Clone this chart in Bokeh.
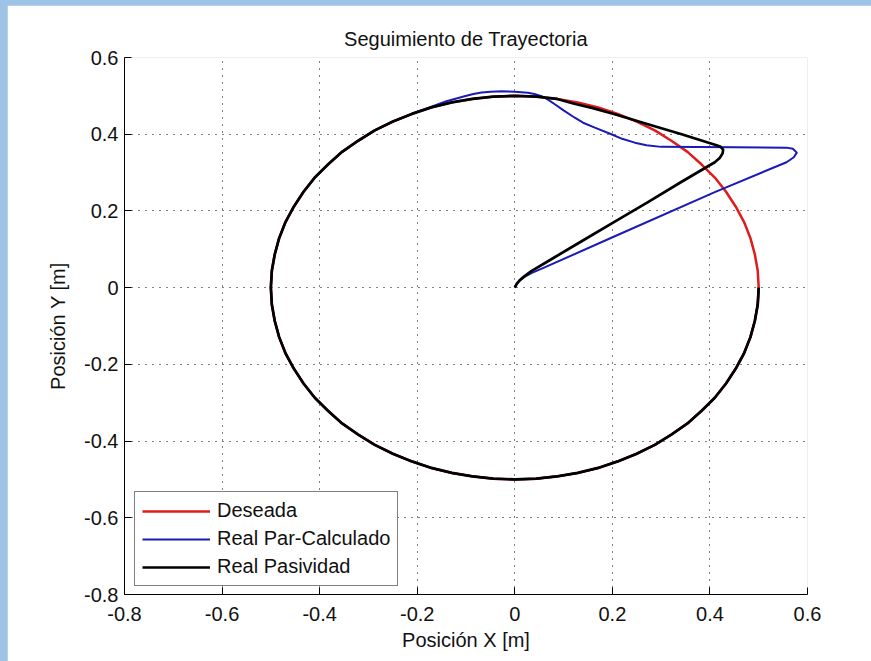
from bokeh.plotting import figure
from bokeh.models import Range1d, FixedTicker
from bokeh.embed import file_html
from bokeh.resources import INLINE

# Desired trajectory: circle of radius 0.5 (points read every 5 degrees, counter-clockwise from (0.5, 0))
circle_x = [0.500, 0.498, 0.492, 0.483, 0.470, 0.453, 0.433, 0.410, 0.383, 0.354,
            0.321, 0.287, 0.250, 0.211, 0.171, 0.129, 0.087, 0.044, 0.000,
            -0.044, -0.087, -0.129, -0.171, -0.211, -0.250, -0.287, -0.321, -0.354,
            -0.383, -0.410, -0.433, -0.453, -0.470, -0.483, -0.492, -0.498, -0.500,
            -0.498, -0.492, -0.483, -0.470, -0.453, -0.433, -0.410, -0.383, -0.354,
            -0.321, -0.287, -0.250, -0.211, -0.171, -0.129, -0.087, -0.044, 0.000,
            0.044, 0.087, 0.129, 0.171, 0.211, 0.250, 0.287, 0.321, 0.354,
            0.383, 0.410, 0.433, 0.453, 0.470, 0.483, 0.492, 0.498, 0.500]
circle_y = [0.000, 0.044, 0.087, 0.129, 0.171, 0.211, 0.250, 0.287, 0.321, 0.354,
            0.383, 0.410, 0.433, 0.453, 0.470, 0.483, 0.492, 0.498, 0.500,
            0.498, 0.492, 0.483, 0.470, 0.453, 0.433, 0.410, 0.383, 0.354,
            0.321, 0.287, 0.250, 0.211, 0.171, 0.129, 0.087, 0.044, 0.000,
            -0.044, -0.087, -0.129, -0.171, -0.211, -0.250, -0.287, -0.321, -0.354,
            -0.383, -0.410, -0.433, -0.453, -0.470, -0.483, -0.492, -0.498, -0.500,
            -0.498, -0.492, -0.483, -0.470, -0.453, -0.433, -0.410, -0.383, -0.354,
            -0.321, -0.287, -0.250, -0.211, -0.171, -0.129, -0.087, -0.044, 0.000]

# Real Par-Calculado: approach segment, then rejoins the circle at 115 deg
par_x = [0.000, 0.004, 0.010, 0.020, 0.034, 0.060, 0.205, 0.410, 0.557, 0.572,
         0.578, 0.570, 0.557, 0.450, 0.300, 0.270, 0.246, 0.220, 0.198, 0.164,
         0.140, 0.123, 0.100, 0.082, 0.068, 0.055, 0.040, 0.027, 0.000, -0.027,
         -0.050, -0.068, -0.085, -0.103, -0.140, -0.171]
par_y = [0.000, 0.010, 0.019, 0.028, 0.038, 0.052, 0.134, 0.249, 0.327, 0.340,
         0.352, 0.362, 0.365, 0.366, 0.367, 0.371, 0.378, 0.388, 0.400, 0.417,
         0.430, 0.443, 0.462, 0.478, 0.490, 0.499, 0.505, 0.508, 0.511, 0.512,
         0.511, 0.509, 0.505, 0.499, 0.486, 0.472]
par_join = 23

# Real Pasividad: approach segment, then rejoins the circle at 80 deg
pas_x = [0.000, 0.004, 0.010, 0.020, 0.034, 0.080, 0.137, 0.205, 0.273, 0.342,
         0.410, 0.420, 0.426, 0.427, 0.422, 0.412, 0.342, 0.273, 0.205, 0.160,
         0.120]
pas_y = [0.000, 0.010, 0.019, 0.030, 0.043, 0.078, 0.121, 0.172, 0.223, 0.276,
         0.327, 0.338, 0.350, 0.360, 0.367, 0.372, 0.400, 0.426, 0.452, 0.468,
         0.480]
pas_join = 16

ticks = [-0.8, -0.6, -0.4, -0.2, 0.0, 0.2, 0.4, 0.6]
tick_labels = ["-0.8", "-0.6", "-0.4", "-0.2", "0", "0.2", "0.4", "0.6"]

FONT = "Liberation Sans"

p = figure(width=864, height=656, output_backend="svg", toolbar_location=None,
           x_range=Range1d(-0.8, 0.6), y_range=Range1d(-0.8, 0.6),
           min_border_left=117, min_border_right=64, min_border_top=52,
           min_border_bottom=67, title="Seguimiento de Trayectoria")
p.background_fill_color = "white"
p.border_fill_color = "white"
p.outline_line_color = None

p.title.align = "center"
p.title.text_font = FONT
p.title.text_font_size = "20px"
p.title.text_font_style = "normal"
p.title.text_color = "#111111"
p.title.standoff = 16

for ax, lab in ((p.xaxis, "Posición X [m]"), (p.yaxis, "Posición Y [m]")):
    ax.ticker = FixedTicker(ticks=ticks)
    ax.major_label_overrides = dict(zip(ticks, tick_labels))
    ax.axis_label = lab
    ax.axis_label_text_font = FONT
    ax.axis_label_text_font_size = "20px"
    ax.axis_label_text_font_style = "normal"
    ax.axis_label_text_color = "#111111"
    ax.major_label_text_font = FONT
    ax.major_label_text_font_size = "20px"
    ax.major_label_text_color = "#111111"
    ax.axis_line_color = "black"
    ax.major_tick_line_color = "black"
    ax.major_tick_in = 7
    ax.major_tick_out = 0
    ax.minor_tick_line_color = None

p.xaxis.major_label_standoff = 12
p.xaxis.axis_label_standoff = 5
p.yaxis.major_label_standoff = 6
p.yaxis.axis_label_standoff = 12

for g in (p.xgrid, p.ygrid):
    g.ticker = FixedTicker(ticks=ticks)
    g.grid_line_color = "black"
    g.grid_line_dash = "1 6"
    g.grid_line_width = 1

p.line(circle_x, circle_y, line_color="#e01b1b", line_width=2.5, line_join="round",
       legend_label="Deseada")
p.line(par_x + circle_x[par_join:], par_y + circle_y[par_join:], line_color="#1a1ab8",
       line_width=2, line_join="round", legend_label="Real Par-Calculado")
p.line(pas_x + circle_x[pas_join:], pas_y + circle_y[pas_join:], line_color="black",
       line_width=2.7, line_join="round", legend_label="Real Pasividad")

lg = p.legend[0]
lg.location = (10, 8)
lg.margin = 0
lg.padding = 7
lg.spacing = 5
lg.glyph_width = 68
lg.glyph_height = 20
lg.label_height = 20
lg.label_standoff = 7
lg.label_text_font = FONT
lg.label_text_font_size = "20px"
lg.label_text_color = "#111111"
lg.border_line_color = "black"
lg.border_line_width = 1
lg.background_fill_color = "white"
lg.background_fill_alpha = 1.0

html = file_html(p, INLINE)
style = ("<style>html, body { margin: 0 !important; padding: 0 !important; "
         "background: #9dc3e6 !important; overflow: hidden !important; } "
         "body { padding: 5px 0 0 7px !important; }</style>")
html = html.replace("</head>", style + "</head>", 1)
open("out.html", "w").write(html)
